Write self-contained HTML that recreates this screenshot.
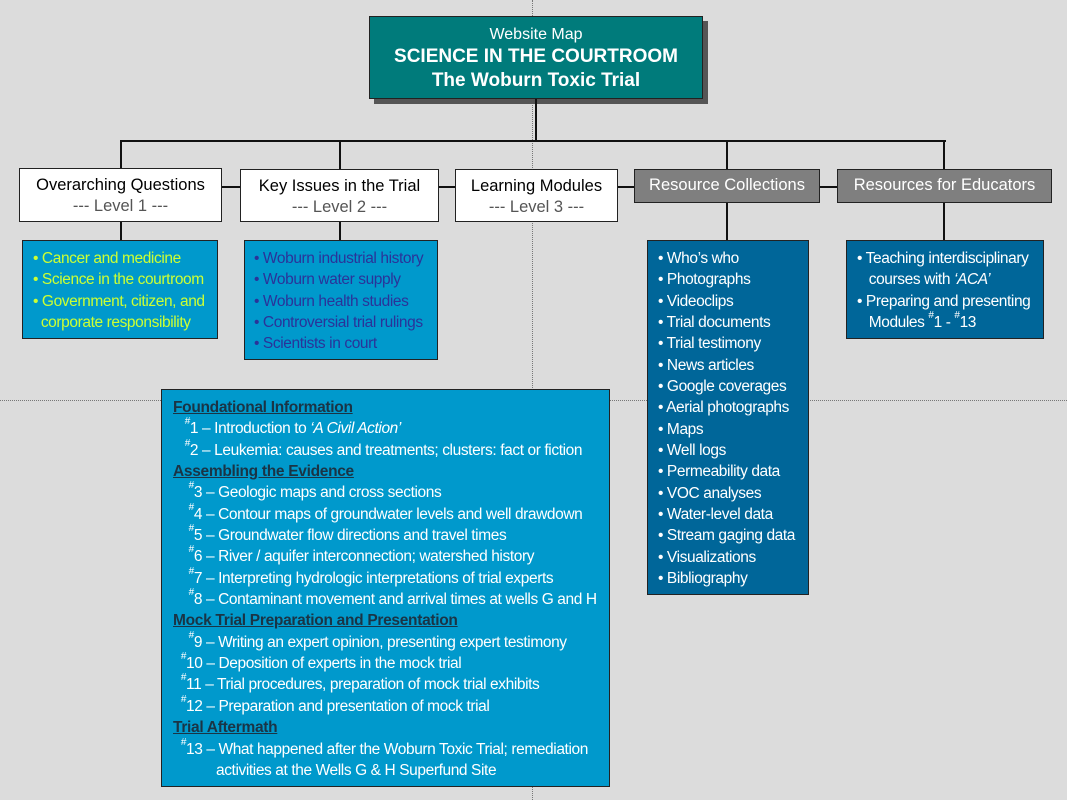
<!DOCTYPE html>
<html style="margin:0;height:800px;overflow:hidden;"><head><meta charset="utf-8"><style>
body{margin:0;width:1067px;height:800px;background:#dcdcdc;position:relative;overflow:hidden;font-family:"Liberation Sans",sans-serif;}
.a{position:absolute;box-sizing:border-box;}
.ln{position:absolute;background:#111;}
.t{position:absolute;white-space:nowrap;font-size:15.5px;letter-spacing:-0.4px;}
.t div{height:21.35px;line-height:21.35px;}
.box{position:absolute;box-sizing:border-box;border:1px solid #222;}
.lv{background:#fff;text-align:center;font-size:16.5px;line-height:21px;padding-top:6px;color:#000;}
.lv span{color:#555;}
.gr{background:#7f7f7f;color:#fff;text-align:center;font-size:16.5px;line-height:31px;}
.h{font-weight:bold;text-decoration:underline;color:#1a3445;letter-spacing:-0.3px;}
sup{font-size:10px;vertical-align:top;line-height:0;position:relative;top:4px;}
</style></head><body>
<div class="a" style="left:532px;top:0;width:0;height:800px;border-left:1px dotted #777;"></div>
<div class="a" style="left:0;top:400px;width:1067px;height:0;border-top:1px dotted #777;"></div>

<div class="a" style="left:374px;top:21px;width:334px;height:83px;background:#555;"></div>
<div class="box" style="left:369px;top:16px;width:334px;height:83px;background:#007b7b;color:#fff;text-align:center;">
<div style="font-size:16px;margin-top:8px;line-height:20px;">Website Map</div>
<div style="font-size:19px;font-weight:bold;line-height:24px;">SCIENCE IN THE COURTROOM</div>
<div style="font-size:19px;font-weight:bold;line-height:24px;">The Woburn Toxic Trial</div>
</div>

<div class="ln" style="left:535px;top:99px;width:2px;height:42px;"></div>
<div class="ln" style="left:120px;top:140px;width:826px;height:2px;"></div>
<div class="ln" style="left:120px;top:140px;width:2px;height:29px;"></div>
<div class="ln" style="left:339px;top:140px;width:2px;height:29px;"></div>
<div class="ln" style="left:726px;top:140px;width:2px;height:29px;"></div>
<div class="ln" style="left:943px;top:140px;width:2px;height:29px;"></div>
<div class="ln" style="left:221px;top:186px;width:20px;height:2px;"></div>
<div class="ln" style="left:438px;top:186px;width:18px;height:2px;"></div>
<div class="ln" style="left:617px;top:186px;width:18px;height:2px;"></div>
<div class="ln" style="left:819px;top:186px;width:19px;height:2px;"></div>
<div class="ln" style="left:120px;top:222px;width:2px;height:18px;"></div>
<div class="ln" style="left:339px;top:222px;width:2px;height:18px;"></div>
<div class="ln" style="left:726px;top:202px;width:2px;height:38px;"></div>
<div class="ln" style="left:943px;top:202px;width:2px;height:38px;"></div>

<div class="box lv" style="left:19px;top:168px;width:203px;height:54px;">Overarching Questions<br><span>--- Level 1 ---</span></div>
<div class="box lv" style="left:240px;top:169px;width:199px;height:53px;">Key Issues in the Trial<br><span>--- Level 2 ---</span></div>
<div class="box lv" style="left:455px;top:169px;width:163px;height:53px;">Learning Modules<br><span>--- Level 3 ---</span></div>
<div class="box gr" style="left:634px;top:169px;width:186px;height:34px;">Resource Collections</div>
<div class="box gr" style="left:837px;top:169px;width:215px;height:34px;">Resources for Educators</div>

<div class="box" style="left:22px;top:240px;width:196px;height:99px;background:#0099cc;"></div>
<div class="t" style="left:33px;top:248px;color:#ccff33;"><div>• Cancer and medicine</div><div>• Science in the courtroom</div><div>• Government, citizen, and</div><div>&nbsp;&nbsp;corporate responsibility</div></div>

<div class="box" style="left:244px;top:240px;width:194px;height:120px;background:#0099cc;"></div>
<div class="t" style="left:254px;top:248px;color:#2a3399;"><div>• Woburn industrial history</div><div>• Woburn water supply</div><div>• Woburn health studies</div><div>• Controversial trial rulings</div><div>• Scientists in court</div></div>

<div class="box" style="left:647px;top:240px;width:162px;height:355px;background:#006699;"></div>
<div class="t" style="left:658px;top:248px;color:#fff;"><div>• Who’s who</div><div>• Photographs</div><div>• Videoclips</div><div>• Trial documents</div><div>• Trial testimony</div><div>• News articles</div><div>• Google coverages</div><div>• Aerial photographs</div><div>• Maps</div><div>• Well logs</div><div>• Permeability data</div><div>• VOC analyses</div><div>• Water-level data</div><div>• Stream gaging data</div><div>• Visualizations</div><div>• Bibliography</div></div>

<div class="box" style="left:846px;top:240px;width:198px;height:99px;background:#006699;"></div>
<div class="t" style="left:857px;top:248px;color:#fff;"><div>• Teaching interdisciplinary</div><div>&nbsp;&nbsp;&nbsp;courses with <i>‘ACA’</i></div><div>• Preparing and presenting</div><div>&nbsp;&nbsp;&nbsp;Modules <sup>#</sup>1 - <sup>#</sup>13</div></div>

<div class="box" style="left:161px;top:389px;width:449px;height:398px;background:#0099cc;"></div>
<div class="t" style="left:173px;top:397px;color:#fff;">
<div><span class="h">Foundational Information</span></div>
<div>&nbsp;&nbsp;&nbsp;<sup>#</sup>1 – Introduction to <i>‘A Civil Action’</i></div>
<div>&nbsp;&nbsp;&nbsp;<sup>#</sup>2 – Leukemia: causes and treatments; clusters: fact or fiction</div>
<div><span class="h">Assembling the Evidence</span></div>
<div>&nbsp;&nbsp;&nbsp;&nbsp;<sup>#</sup>3 – Geologic maps and cross sections</div>
<div>&nbsp;&nbsp;&nbsp;&nbsp;<sup>#</sup>4 – Contour maps of groundwater levels and well drawdown</div>
<div>&nbsp;&nbsp;&nbsp;&nbsp;<sup>#</sup>5 – Groundwater flow directions and travel times</div>
<div>&nbsp;&nbsp;&nbsp;&nbsp;<sup>#</sup>6 – River / aquifer interconnection; watershed history</div>
<div>&nbsp;&nbsp;&nbsp;&nbsp;<sup>#</sup>7 – Interpreting hydrologic interpretations of trial experts</div>
<div>&nbsp;&nbsp;&nbsp;&nbsp;<sup>#</sup>8 – Contaminant movement and arrival times at wells G and H</div>
<div><span class="h">Mock Trial Preparation and Presentation</span></div>
<div>&nbsp;&nbsp;&nbsp;&nbsp;<sup>#</sup>9 – Writing an expert opinion, presenting expert testimony</div>
<div>&nbsp;&nbsp;<sup>#</sup>10 – Deposition of experts in the mock trial</div>
<div>&nbsp;&nbsp;<sup>#</sup>11 – Trial procedures, preparation of mock trial exhibits</div>
<div>&nbsp;&nbsp;<sup>#</sup>12 – Preparation and presentation of mock trial</div>
<div><span class="h">Trial Aftermath</span></div>
<div>&nbsp;&nbsp;<sup>#</sup>13 – What happened after the Woburn Toxic Trial; remediation</div>
<div>&nbsp;&nbsp;&nbsp;&nbsp;&nbsp;&nbsp;&nbsp;&nbsp;&nbsp;&nbsp;&nbsp;activities at the Wells G &amp; H Superfund Site</div>
</div>
</body></html>
